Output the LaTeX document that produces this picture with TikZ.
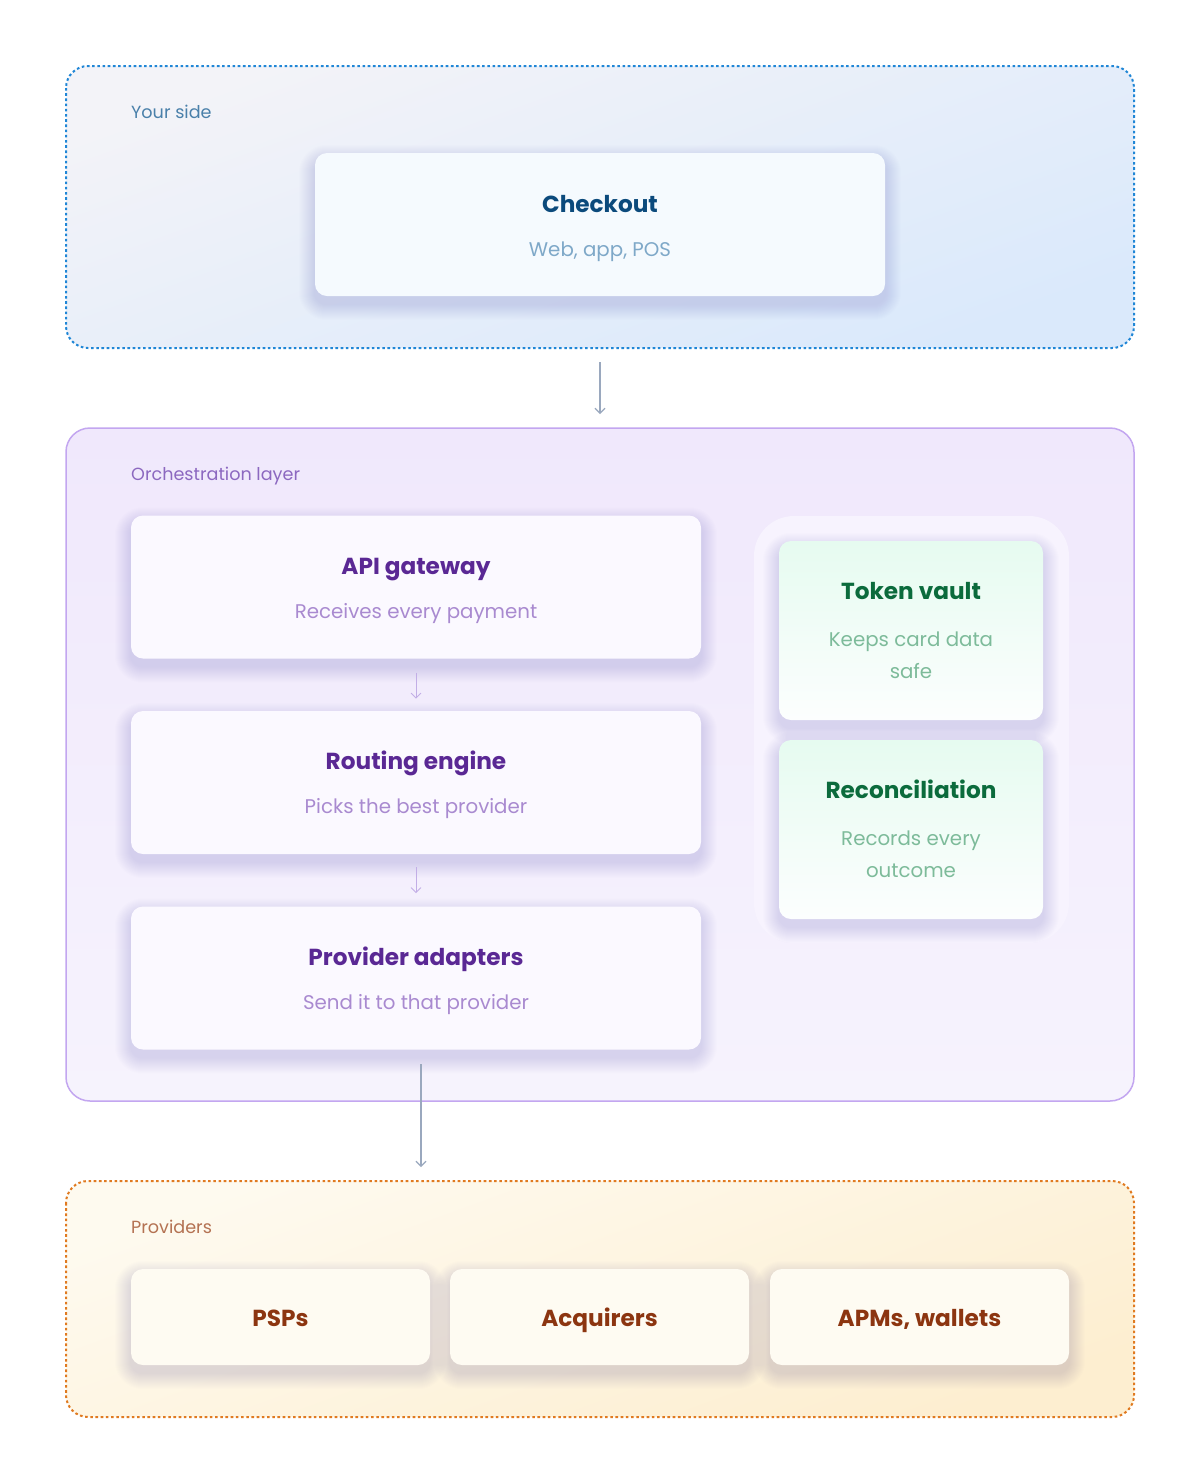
\documentclass[tikz,border=0pt]{standalone}
\usepackage{fontspec}
\setmainfont{Poppins}
\usetikzlibrary{arrows.meta}
\pgfdeclarelayer{bg}
\pgfdeclarelayer{shadowlayer}
\pgfsetlayers{bg,shadowlayer,main}
\definecolor{blueborder}{HTML}{1F86D6}
\definecolor{bluetop}{HTML}{F3F3F8}
\definecolor{bluebot}{HTML}{DAE9FB}
\definecolor{bluecard}{HTML}{F5FAFE}
\definecolor{bluelabel}{HTML}{4A80AA}
\definecolor{bluetitle}{HTML}{0B4A7C}
\definecolor{bluesub}{HTML}{7EA8C8}
\definecolor{arrowgray}{HTML}{9AA8BE}
\definecolor{purpborder}{HTML}{C3A6F0}
\definecolor{purptop}{HTML}{F0E8FC}
\definecolor{purpbot}{HTML}{F6F3FD}
\definecolor{purpcard}{HTML}{FBF9FF}
\definecolor{purplabel}{HTML}{8C68C0}
\definecolor{purptitle}{HTML}{5A2894}
\definecolor{purpsub}{HTML}{A98AD0}
\definecolor{purparrow}{HTML}{C2AEE6}
\definecolor{groupfill}{HTML}{F7F3FE}
\definecolor{greentop}{HTML}{E6FBF0}
\definecolor{greenbot}{HTML}{FCFEFE}
\definecolor{greentitle}{HTML}{0B6B3C}
\definecolor{greensub}{HTML}{7DBB9A}
\definecolor{orangeborder}{HTML}{E07A20}
\definecolor{orangetop}{HTML}{FEFAEF}
\definecolor{orangebot}{HTML}{FDEED0}
\definecolor{orangecard}{HTML}{FEFBF2}
\definecolor{orangelabel}{HTML}{B47252}
\definecolor{orangetitle}{HTML}{8C3510}
\definecolor{shadowcol}{HTML}{4A5080}
\newcommand{\cardshadow}[1]{%
  \begin{pgfonlayer}{shadowlayer}
  \foreach \i in {1,...,16}{
    \pgfmathsetmacro{\rr}{12+\i}
    \fill[shadowcol, opacity=0.006, rounded corners=\rr pt]
      ([xshift=-\i pt, yshift=-8pt+\i pt]#1.north west) rectangle ([xshift=\i pt, yshift=-8pt-\i pt]#1.south east);
  }
  \end{pgfonlayer}}
\tikzset{
  x=1pt, y=-1pt,
  zonelabel/.style={anchor=base west, inner sep=0pt, font=\fontsize{17.6}{20}\selectfont},
  cardbox/.style={draw=none, rounded corners=12pt, inner sep=0pt},
  titletext/.style={anchor=base, inner sep=0pt, font=\fontsize{23.2}{26}\selectfont\bfseries},
  subtext/.style={anchor=base, inner sep=0pt, font=\fontsize{19.8}{22}\selectfont},
  flow/.style={-{Straight Barb[length=5pt,width=10pt]}, line width=1.1pt},
  zonedots/.style={line width=2pt, dash pattern=on 2.6pt off 2.6pt, rounded corners=22pt},
}
\begin{document}
\begin{tikzpicture}
\begin{pgfonlayer}{bg}
\path[fill=white] (0,0) rectangle (1200,1484);
\end{pgfonlayer}
\useasboundingbox (0,0) rectangle (1200,1484);

% ---------- Your side ----------
\begin{pgfonlayer}{bg}
\path[rounded corners=22pt, top color=bluetop, bottom color=bluebot, shading angle=20]
  (66,66) rectangle (1134,348);
\draw[blueborder, zonedots] (66,66) rectangle (1134,348);
\end{pgfonlayer}
\node[zonelabel, text=bluelabel] (yourside) at (131,118) {Your side};
\node[cardbox, fill=bluecard, minimum width=570pt, minimum height=143pt] (checkout) at (600,224.5) {};
\cardshadow{checkout}
\node[titletext, text=bluetitle] (checkoutT) at (600,212) {Checkout};
\node[subtext, text=bluesub] (checkoutS) at (600,256) {Web, app, POS};

% ---------- Orchestration layer ----------
\begin{pgfonlayer}{bg}
\path[rounded corners=24pt, top color=purptop, bottom color=purpbot]
  (66,428) rectangle (1134,1101);
\draw[purpborder, line width=1.5pt, rounded corners=24pt]
  (66,428) rectangle (1134,1101);
\path[fill=groupfill, rounded corners=40pt] (754,516) rectangle (1069,943);
\end{pgfonlayer}
\node[zonelabel, text=purplabel] (orch) at (131,480) {Orchestration layer};

\node[cardbox, fill=purpcard, minimum width=570pt, minimum height=143pt] (api) at (416,587) {};
\cardshadow{api}
\node[titletext, text=purptitle] (apiT) at (416,574) {API gateway};
\node[subtext, text=purpsub] (apiS) at (416,618) {Receives every payment};

\node[cardbox, fill=purpcard, minimum width=570pt, minimum height=143pt] (routing) at (416,782.5) {};
\cardshadow{routing}
\node[titletext, text=purptitle] (routingT) at (416,769) {Routing engine};
\node[subtext, text=purpsub] (routingS) at (416,813) {Picks the best provider};

\node[cardbox, fill=purpcard, minimum width=570pt, minimum height=143pt] (adapters) at (416,978) {};
\cardshadow{adapters}
\node[titletext, text=purptitle] (adaptersT) at (416,965) {Provider adapters};
\node[subtext, text=purpsub] (adaptersS) at (416,1009) {Send it to that provider};

% right group
\node[cardbox, top color=greentop, bottom color=greenbot, minimum width=264pt, minimum height=179pt] (vault) at (911,630.5) {};
\cardshadow{vault}
\node[titletext, text=greentitle] (vaultT) at (911,599) {Token vault};
\node[subtext, text=greensub, align=center, font=\fontsize{19.8}{32}\selectfont, anchor=north] (vaultS) at (911,632) {Keeps card data\\safe};

\node[cardbox, top color=greentop, bottom color=greenbot, minimum width=264pt, minimum height=179pt] (recon) at (911,829.5) {};
\cardshadow{recon}
\node[titletext, text=greentitle] (reconT) at (911,798) {Reconciliation};
\node[subtext, text=greensub, align=center, font=\fontsize{19.8}{32}\selectfont, anchor=north] (reconS) at (911,831) {Records every\\outcome};

% ---------- Providers ----------
\begin{pgfonlayer}{bg}
\path[rounded corners=22pt, top color=orangetop, bottom color=orangebot, shading angle=20]
  (66,1181) rectangle (1134,1417);
\draw[orangeborder, zonedots] (66,1181) rectangle (1134,1417);
\end{pgfonlayer}
\node[zonelabel, text=orangelabel] (providers) at (131,1233) {Providers};

\node[cardbox, fill=orangecard, minimum width=299pt, minimum height=96pt] (psp) at (280.5,1317) {};
\cardshadow{psp}
\node[titletext, text=orangetitle] (pspT) at (280.5,1326) {PSPs};
\node[cardbox, fill=orangecard, minimum width=299pt, minimum height=96pt] (acq) at (599.5,1317) {};
\cardshadow{acq}
\node[titletext, text=orangetitle] (acqT) at (599.5,1326) {Acquirers};
\node[cardbox, fill=orangecard, minimum width=299pt, minimum height=96pt] (apm) at (919.5,1317) {};
\cardshadow{apm}
\node[titletext, text=orangetitle] (apmT) at (919.5,1326) {APMs, wallets};

% ---------- connectors ----------
\coordinate (a1s) at (600,362);
\coordinate (a1e) at (600,414);
\draw[flow, arrowgray] (a1s) -- (a1e);
\draw[flow, purparrow, line width=0.9pt] ([yshift=-14pt]api.south) -- ([yshift=-40pt]api.south);
\draw[flow, purparrow, line width=0.9pt] ([yshift=-13pt]routing.south) -- ([yshift=-39pt]routing.south);
\coordinate (a4s) at (421,1064);
\coordinate (a4e) at (421,1167);
\draw[flow, arrowgray] (a4s) -- (a4e);
\end{tikzpicture}
\end{document}
